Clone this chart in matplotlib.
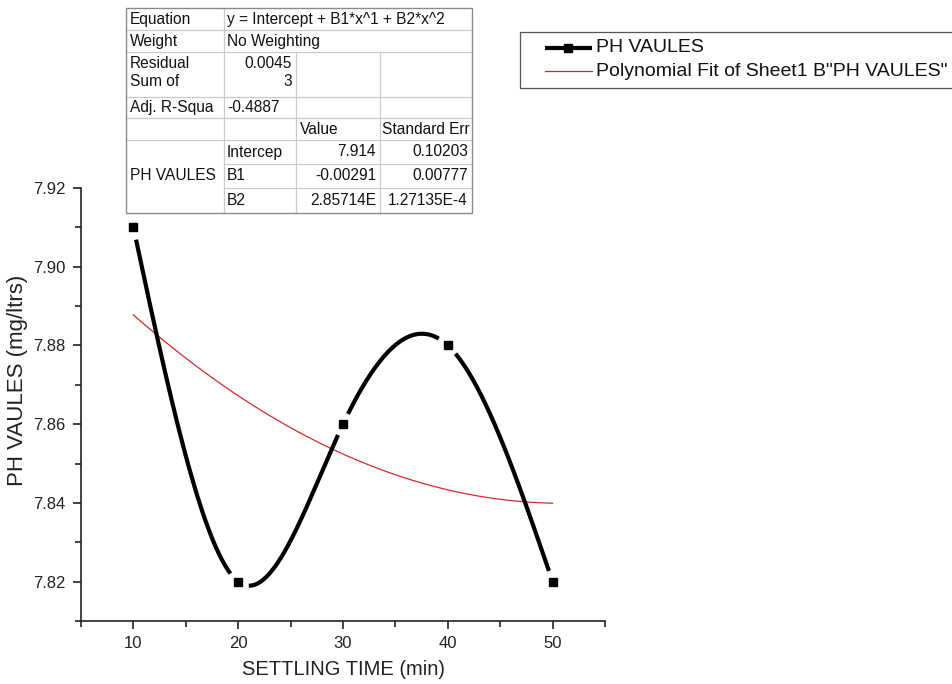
import numpy as np
import matplotlib as mpl
mpl.use('Agg')
import matplotlib.pyplot as plt
import matplotlib.transforms as mtransforms
from matplotlib.lines import Line2D
from matplotlib.patches import Rectangle
from matplotlib.ticker import MultipleLocator, FormatStrFormatter

plt.rcParams['font.family'] = ['Liberation Sans', 'DejaVu Sans']

# Measured pH at each settling time
settling_time = [10, 20, 30, 40, 50]
ph_values = [7.91, 7.82, 7.86, 7.88, 7.82]

# Quadratic fit coefficients (y = Intercept + B1*x + B2*x^2)
fit_intercept = 7.914
fit_b1 = -0.00291
fit_b2 = 2.85714e-5

# Fit summary table
table_equation = 'y = Intercept + B1*x^1 + B2*x^2'
table_weight = 'No Weighting'
table_rss = ['0.0045', '3']
table_adj_r2 = '-0.4887'
param_names = ['Intercep', 'B1', 'B2']
param_values = ['7.914', '-0.00291', '2.85714E']
param_errors = ['0.10203', '0.00777', '1.27135E-4']

W, H = 952, 684


def natural_spline(x, y, xs):
    # natural cubic spline through the measured points
    x = np.asarray(x, float)
    y = np.asarray(y, float)
    n = len(x)
    h = np.diff(x)
    A = np.zeros((n, n))
    r = np.zeros(n)
    A[0, 0] = A[-1, -1] = 1
    for i in range(1, n - 1):
        A[i, i - 1] = h[i - 1]
        A[i, i] = 2 * (h[i - 1] + h[i])
        A[i, i + 1] = h[i]
        r[i] = 3 * ((y[i + 1] - y[i]) / h[i] - (y[i] - y[i - 1]) / h[i - 1])
    c = np.linalg.solve(A, r)
    b = (y[1:] - y[:-1]) / h - h * (2 * c[:-1] + c[1:]) / 3
    d = (c[1:] - c[:-1]) / (3 * h)
    idx = np.clip(np.searchsorted(x, xs) - 1, 0, n - 2)
    dx = xs - x[idx]
    return y[idx] + b[idx] * dx + c[idx] * dx ** 2 + d[idx] * dx ** 3


fig = plt.figure(figsize=(W / 100, H / 100), dpi=100)
ax = fig.add_axes([81 / W, 63 / H, 524 / W, 433 / H])

ax.set_xlim(5, 55)
ax.set_ylim(7.81, 7.92)

# smooth connecting line, broken around each symbol
xs = np.linspace(settling_time[0], settling_time[-1], 800)
ys = natural_spline(settling_time, ph_values, xs)
pts = ax.transData.transform(np.column_stack([xs, ys]))
mk = ax.transData.transform(np.column_stack([settling_time, ph_values]))
dist = np.min(np.hypot(pts[:, None, 0] - mk[None, :, 0], pts[:, None, 1] - mk[None, :, 1]), axis=1)
ys_line = np.where(dist < 11, np.nan, ys)
ax.plot(xs, ys_line, color='black', lw=3, solid_capstyle='butt', zorder=3)
ax.plot(settling_time, ph_values, ls='none', marker='s', ms=6.3, color='black', zorder=4)

# polynomial fit curve
xf = np.linspace(settling_time[0], settling_time[-1], 200)
yf = fit_intercept + fit_b1 * xf + fit_b2 * xf ** 2
ax.plot(xf, yf, color='#d42a2a', lw=0.9, zorder=2)

for side in ['top', 'right']:
    ax.spines[side].set_visible(False)
for side in ['left', 'bottom']:
    ax.spines[side].set_linewidth(1.2)
    ax.spines[side].set_color('#222222')

ax.xaxis.set_major_locator(MultipleLocator(10))
ax.xaxis.set_minor_locator(MultipleLocator(5))
ax.yaxis.set_major_locator(MultipleLocator(0.02))
ax.yaxis.set_minor_locator(MultipleLocator(0.01))
ax.yaxis.set_major_formatter(FormatStrFormatter('%.2f'))
ax.tick_params(which='major', direction='out', length=6, width=1.2, labelsize=12,
               colors='#222222', pad=5)
ax.tick_params(which='minor', direction='out', length=4, width=1.2, colors='#222222')

ax.set_xlabel('SETTLING TIME (min)', fontsize=14.5, color='#222222', labelpad=6)
ax.set_ylabel('PH VAULES (mg/ltrs)', fontsize=16, color='#222222', labelpad=6)
ax.yaxis.set_label_coords(-0.102, 0.555)

# pixel coordinates measured from the top-left corner of the figure
px = mtransforms.Affine2D().scale(1 / W, -1 / H).translate(0, 1) + fig.transFigure

cols = [126, 224, 296, 380, 472]
rows = [8, 30, 52, 97, 118, 140, 164, 188, 213]
grid_c = '#c9c9c9'
edge_c = '#8a8a8a'
fs = 11.2


def hline(x0, x1, y, c=grid_c):
    fig.add_artist(Line2D([x0, x1], [y, y], transform=px, color=c, lw=0.9, zorder=11))


def vline(x, y0, y1, c=grid_c):
    fig.add_artist(Line2D([x, x], [y0, y1], transform=px, color=c, lw=0.9, zorder=11))


def cell(x, y, s, ha='left'):
    return fig.text(x, y, s, transform=px, ha=ha, va='center', fontsize=fs,
                    color='#111111', zorder=12)


fig.add_artist(Rectangle((cols[0], rows[0]), cols[-1] - cols[0], rows[-1] - rows[0],
                         transform=px, facecolor='white', edgecolor='none', zorder=10))

for y in rows[1:6]:
    hline(cols[0], cols[-1], y)
for y in rows[6:8]:
    hline(cols[1], cols[-1], y)
vline(cols[1], rows[0], rows[-1])
vline(cols[2], rows[2], rows[-1])
vline(cols[3], rows[2], rows[-1])
fig.add_artist(Rectangle((cols[0], rows[0]), cols[-1] - cols[0], rows[-1] - rows[0],
                         transform=px, facecolor='none', edgecolor=edge_c, lw=1.0, zorder=11))

lx = cols[0] + 4
cell(lx, 19.5, 'Equation')
cell(cols[1] + 3, 19.5, table_equation)
cell(lx, 41.5, 'Weight')
cell(cols[1] + 3, 41.5, table_weight)
cell(lx, 63, 'Residual')
cell(lx, 82, 'Sum of')
cell(cols[2] - 4, 63, table_rss[0], ha='right')
cell(cols[2] - 4, 82, table_rss[1], ha='right')
cell(lx, 107.5, 'Adj. R-Squa')
cell(cols[1] + 3, 107.5, table_adj_r2)
cell(cols[2] + 4, 129, 'Value')
cell(cols[3] + 2, 129, 'Standard Err')
cell(lx, 176, 'PH VAULES')
for i, name in enumerate(param_names):
    yc = (rows[5 + i] + rows[6 + i]) / 2
    cell(cols[1] + 3, yc, name)
    cell(cols[3] - 4, yc, param_values[i], ha='right')
    cell(cols[4] - 4, yc, param_errors[i], ha='right')

# legend box
fig.add_artist(Rectangle((520, 32), 450, 56, transform=px, facecolor='white',
                         edgecolor='#555555', lw=0.9, zorder=10))
fig.add_artist(Line2D([545, 592], [48, 48], transform=px, color='black', lw=3,
                      solid_capstyle='butt', zorder=11))
fig.add_artist(Line2D([568], [48], transform=px, color='black', marker='s', ms=6.3, zorder=12))
fig.add_artist(Line2D([545, 592], [71, 71], transform=px, color='#d42a2a', lw=0.9, zorder=11))
fig.text(596, 48, 'PH VAULES', transform=px, ha='left', va='center', fontsize=14,
         color='#111111', zorder=12)
fig.text(596, 71, 'Polynomial Fit of Sheet1 B"PH VAULES"', transform=px, ha='left',
         va='center', fontsize=14, color='#111111', zorder=12)

fig.savefig('out.png', dpi=100, facecolor='white')
